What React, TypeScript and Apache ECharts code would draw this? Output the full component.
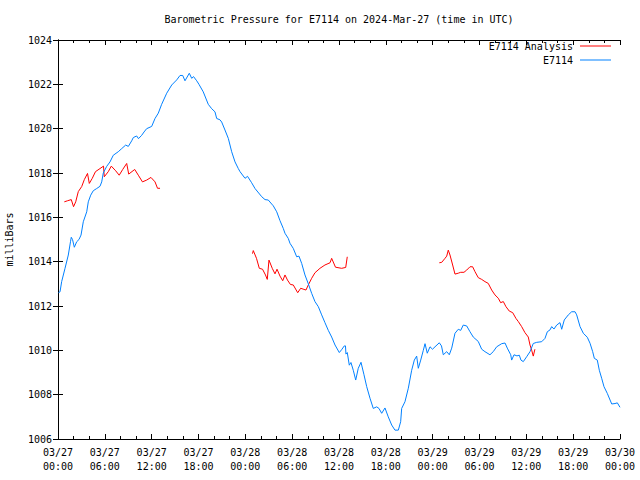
import React, { useEffect, useRef } from "react";
import * as echarts from "echarts";

const xTickLabels = [
  "03/27\n00:00", "03/27\n06:00", "03/27\n12:00", "03/27\n18:00",
  "03/28\n00:00", "03/28\n06:00", "03/28\n12:00", "03/28\n18:00",
  "03/29\n00:00", "03/29\n06:00", "03/29\n12:00", "03/29\n18:00",
  "03/30\n00:00",
];

// hours since 2024-03-27 00:00 UTC
const blueHours = [
  0.06, 0.26, 0.47, 0.9, 1.32, 1.6, 1.7, 1.86, 2.09, 2.4, 2.69, 2.95, 3.24, 3.68, 3.88, 4.19, 4.52, 4.96,
  5.38, 5.6, 5.8, 6.24, 6.66, 7.08, 7.72, 8.16, 8.67, 9.01, 9.44, 9.65, 10.08, 10.31, 10.72, 11.02, 11.36,
  12.0, 12.43, 12.85, 13.28, 13.93, 14.57, 15.21, 15.63, 15.98, 16.27, 16.82, 17.13, 17.36, 17.77, 18.06,
  18.61, 19.25, 19.69, 20.11, 20.33, 20.75, 20.97, 21.39, 21.82, 22.25, 22.68, 23.1, 23.32, 23.96, 24.28,
  24.81, 25.24, 26.1, 26.52, 26.94, 27.38, 27.58, 28.02, 28.44, 28.86, 29.08, 29.5, 29.72, 30.14, 30.58,
  30.87, 31.22, 31.64, 32.07, 32.5, 32.92, 33.35, 33.78, 34.2, 34.63, 35.06, 35.49, 36.04, 36.38, 36.68,
  36.83, 36.89, 37.06, 37.32, 37.53, 37.83, 38.14, 38.47, 38.82, 39.2, 39.55, 39.97, 40.39, 40.83, 41.12,
  41.47, 41.89, 42.31, 42.75, 43.17, 43.6, 43.9, 44.03, 44.45, 44.88, 45.31, 45.65, 45.95, 46.16, 46.47,
  46.8, 47.02, 47.31, 47.66, 47.98, 48.3, 48.85, 49.13, 49.36, 49.8, 50.13, 50.44, 50.86, 51.28, 51.59,
  51.92, 52.36, 52.78, 53.2, 53.84, 54.28, 54.7, 55.34, 55.76, 56.2, 56.84, 57.27, 57.56, 58.0, 58.12,
  58.42, 58.8, 59.1, 59.31, 59.61, 60.04, 60.47, 60.89, 61.33, 61.97, 62.39, 62.69, 63.03, 63.25, 63.54,
  63.89, 64.31, 64.53, 64.86, 65.38, 65.81, 66.24, 66.45, 66.88, 67.3, 67.81, 68.16, 68.5, 68.71, 69.09,
  69.35, 69.65, 69.95, 70.37, 70.94, 71.36, 71.66, 72.0,
];
const blueValues = [
  1012.6, 1012.64, 1013.1, 1013.7, 1014.3, 1014.9, 1015.1, 1015.0, 1014.65, 1014.9, 1015.0, 1015.2, 1015.8,
  1016.25, 1016.7, 1017.0, 1017.2, 1017.3, 1017.4, 1017.6, 1018.0, 1018.3, 1018.5, 1018.8, 1018.96, 1019.1,
  1019.26, 1019.2, 1019.45, 1019.6, 1019.67, 1019.55, 1019.7, 1019.85, 1020.0, 1020.1, 1020.46, 1020.7,
  1021.1, 1021.6, 1021.97, 1022.2, 1022.4, 1022.4, 1022.16, 1022.5, 1022.27, 1022.35, 1022.16, 1022.0,
  1021.66, 1021.1, 1020.9, 1020.76, 1020.46, 1020.4, 1020.3, 1019.94, 1019.56, 1018.96, 1018.5, 1018.2,
  1018.06, 1017.76, 1017.85, 1017.56, 1017.3, 1016.93, 1016.8, 1016.78, 1016.6, 1016.52, 1016.25, 1015.85,
  1015.5, 1015.28, 1015.05, 1014.83, 1014.6, 1014.22, 1014.25, 1013.92, 1013.4, 1013.0, 1012.57, 1012.2,
  1011.97, 1011.6, 1011.25, 1010.9, 1010.6, 1010.24, 1009.9, 1010.05, 1010.2, 1010.2, 1009.83, 1009.9,
  1009.33, 1009.45, 1009.1, 1008.66, 1009.19, 1009.46, 1008.9, 1008.36, 1007.84, 1007.38, 1007.45, 1007.38,
  1007.16, 1007.4, 1007.0, 1006.63, 1006.4, 1006.4, 1006.78, 1007.38, 1007.68, 1008.29, 1009.1, 1009.56,
  1009.74, 1009.19, 1009.56, 1010.0, 1010.3, 1009.87, 1010.16, 1010.05, 1010.16, 1010.34, 1010.2, 1009.8,
  1009.94, 1009.8, 1010.1, 1010.77, 1010.95, 1010.9, 1011.14, 1011.1, 1010.84, 1010.6, 1010.4, 1010.05,
  1009.94, 1009.8, 1009.94, 1010.16, 1010.3, 1010.33, 1010.1, 1009.8, 1009.56, 1009.8, 1009.75, 1009.78,
  1009.56, 1009.49, 1009.71, 1009.94, 1010.31, 1010.36, 1010.39, 1010.54, 1010.84, 1010.92, 1011.07,
  1010.96, 1011.14, 1011.25, 1010.95, 1011.37, 1011.6, 1011.74, 1011.74, 1011.6, 1011.07, 1010.77,
  1010.59, 1010.32, 1009.94, 1009.64, 1009.56, 1009.1, 1008.74, 1008.36, 1008.06, 1007.58, 1007.6,
  1007.63, 1007.43,
];

const anaHours1 = [
  0.81, 1.24, 1.7, 1.99, 2.27, 2.6, 3.04, 3.37, 3.78, 4.01, 4.39, 4.8, 5.38, 5.83, 5.93, 6.44, 6.83,
  7.39, 7.84, 8.29, 8.8, 9.06, 9.83, 10.29, 10.82, 11.36, 11.91, 12.43, 12.75, 13.07,
];
const anaValues1 = [
  1016.7, 1016.75, 1016.8, 1016.48, 1016.7, 1017.16, 1017.39, 1017.7, 1017.98, 1017.53, 1017.76, 1018.06,
  1018.2, 1018.31, 1017.83, 1018.06, 1018.31, 1018.1, 1017.9, 1018.16, 1018.43, 1017.95, 1018.16, 1017.9,
  1017.6, 1017.68, 1017.8, 1017.6, 1017.31, 1017.31,
];
const anaHours2 = [
  24.92, 25.02, 25.43, 25.79, 26.2, 26.58, 26.81, 27.03, 27.45, 27.8, 28.06, 28.44, 28.79, 29.08, 29.4,
  29.78, 30.14, 30.71, 31.09, 31.51, 31.77, 32.07, 32.5, 32.92, 33.56, 34.2, 34.85, 35.06, 35.55, 36.34,
  36.86, 37.06,
];
const anaValues2 = [
  1014.36, 1014.5, 1014.15, 1013.7, 1013.66, 1013.4, 1013.2, 1014.07, 1013.7, 1013.45, 1013.66, 1013.35,
  1013.14, 1013.4, 1013.17, 1012.97, 1012.95, 1012.6, 1012.8, 1012.75, 1012.72, 1012.95, 1013.25, 1013.5,
  1013.7, 1013.85, 1013.95, 1014.15, 1013.75, 1013.7, 1013.74, 1014.22,
];
const anaHours3 = [
  48.85, 49.16, 49.58, 49.8, 50.0, 50.22, 50.56, 50.86, 51.28, 51.59, 52.01, 52.36, 52.78, 53.12, 53.42,
  53.84, 54.28, 54.7, 55.12, 55.56, 55.98, 56.41, 56.71, 57.05, 57.39, 57.82, 58.25, 58.67, 58.97, 59.4,
  59.82, 60.25, 60.47, 60.68, 60.89, 61.1,
];
const anaValues3 = [
  1013.95, 1013.97, 1014.15, 1014.25, 1014.52, 1014.3, 1013.85, 1013.44, 1013.48, 1013.52, 1013.52,
  1013.62, 1013.77, 1013.77, 1013.55, 1013.28, 1013.2, 1013.1, 1013.02, 1012.72, 1012.5, 1012.35, 1012.15,
  1012.2, 1011.97, 1011.77, 1011.7, 1011.44, 1011.3, 1011.07, 1010.8, 1010.6, 1010.24, 1010.01, 1009.74,
  1010.05,
];

const ANALYSIS = "E7114 Analysis";
const STATION = "E7114";
const FONT = "'DejaVu Sans Mono', 'Liberation Mono', monospace";

const zip = (xs: number[], ys: number[]) => xs.map((x, i) => [x, ys[i]]);

export default function App() {
  const ref = useRef<HTMLDivElement>(null);
  useEffect(() => {
    if (!ref.current) return;
    const chart = echarts.init(ref.current, undefined, { renderer: "svg" });
    const axisLine = { show: true, lineStyle: { color: "#000", width: 1 } };
    const xCommon = {
      type: "value",
      min: 0,
      max: 72,
      interval: 6,
      axisLine,
      axisTick: { show: true, inside: true, length: 5, lineStyle: { color: "#000" } },
      minorTick: { show: true, splitNumber: 3, length: 3, lineStyle: { color: "#000" } },
      splitLine: { show: false },
      minorSplitLine: { show: false },
    };
    const yCommon = {
      type: "value",
      min: 1006,
      max: 1024,
      interval: 2,
      axisLine,
      axisTick: { show: true, inside: true, length: 5, lineStyle: { color: "#000" } },
      splitLine: { show: false },
    };
    const lineSeries = (name: string, color: string, data: number[][]) => ({
      name,
      type: "line",
      data,
      showSymbol: false,
      symbol: "none",
      lineStyle: { color, width: 1 },
      itemStyle: { color },
      xAxisIndex: 0,
      yAxisIndex: 0,
      silent: true,
    });
    const legendText = { fontFamily: FONT, fontSize: 10, color: "#000", padding: [0, 2, 0, 0] };
    chart.setOption({
      animation: false,
      backgroundColor: "#fff",
      textStyle: { fontFamily: FONT },
      grid: {
        left: 58,
        right: 20,
        top: 40,
        bottom: 41,
        containLabel: false,
        outerBoundsMode: "none",
      },
      graphic: [
        {
          type: "text",
          x: 339,
          y: 19,
          style: {
            text: "Barometric Pressure for E7114 on 2024-Mar-27 (time in UTC)",
            font: `10px ${FONT}`,
            fill: "#000",
            textAlign: "center",
            textVerticalAlign: "middle",
          },
        },
      ],
      legend: [
        {
          data: [{ name: ANALYSIS, icon: "rect" }],
          orient: "vertical",
          align: "right",
          right: 29,
          top: 41,
          itemWidth: 31,
          itemHeight: 1,
          itemGap: 0,
          padding: 0,
          textStyle: legendText,
        },
        {
          data: [{ name: STATION, icon: "rect" }],
          orient: "vertical",
          align: "right",
          right: 29,
          top: 55,
          itemWidth: 31,
          itemHeight: 1,
          itemGap: 0,
          padding: 0,
          textStyle: legendText,
        },
      ],
      xAxis: [
        {
          ...xCommon,
          position: "bottom",
          axisLabel: {
            show: true,
            margin: 6,
            fontFamily: FONT,
            fontSize: 10,
            color: "#000",
            lineHeight: 14,
            formatter: (v: number) => xTickLabels[Math.round(v / 6)] ?? "",
          },
        },
        { ...xCommon, position: "top", axisLabel: { show: false } },
      ],
      yAxis: [
        {
          ...yCommon,
          position: "left",
          name: "milliBars",
          nameLocation: "middle",
          nameRotate: 90,
          nameGap: 44,
          nameTextStyle: { fontFamily: FONT, fontSize: 10, color: "#000" },
          axisLabel: {
            show: true,
            margin: 6,
            fontFamily: FONT,
            fontSize: 10,
            color: "#000",
            formatter: (v: number) => String(Math.round(v)),
          },
        },
        { ...yCommon, position: "right", axisLabel: { show: false } },
      ],
      series: [
        lineSeries(ANALYSIS, "#ff0000", zip(anaHours1, anaValues1)),
        lineSeries(ANALYSIS, "#ff0000", zip(anaHours2, anaValues2)),
        lineSeries(ANALYSIS, "#ff0000", zip(anaHours3, anaValues3)),
        lineSeries(STATION, "#0080ff", zip(blueHours, blueValues)),
      ],
    });
    return () => chart.dispose();
  }, []);
  return <div ref={ref} style={{ width: 640, height: 480, position: "absolute", left: 0, top: 0 }} />;
}
